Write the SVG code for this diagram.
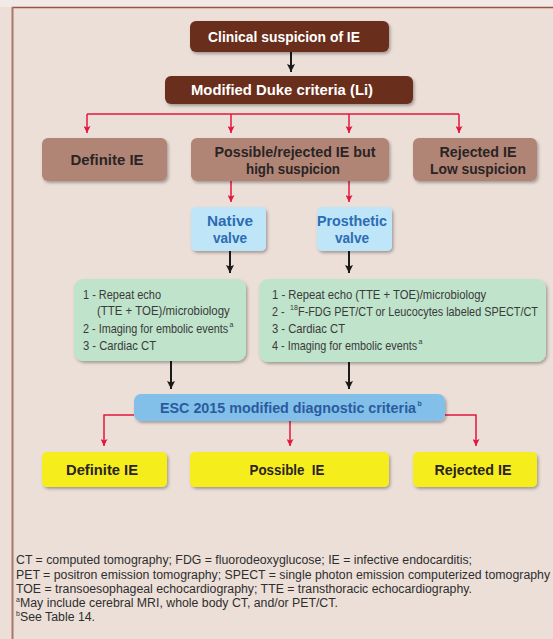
<svg xmlns="http://www.w3.org/2000/svg" width="553" height="639" viewBox="0 0 553 639">
<defs>
<style>
.hb{font-family:"Liberation Sans",Arial,sans-serif;font-weight:bold;font-size:15px;}
.w{fill:#ffffff;}
.d{fill:#2a2424;}
.bl{fill:#2b6cb4;}
.esc{fill:#2a5b9f;}
.g{font-family:"Liberation Sans",Arial,sans-serif;font-size:13px;fill:#3a3a3a;}
.sup{font-family:"Liberation Sans",Arial,sans-serif;font-size:7px;}
.fn{font-family:"Liberation Sans",Arial,sans-serif;font-size:12.3px;fill:#2e2e2e;}
.red{stroke:#e3173e;stroke-width:1.5;fill:none;}
.blk{stroke:#1a1a1a;stroke-width:2;fill:none;}
.brown{fill:#6b2d1e;}
.rose{fill:#b08576;}
.lb{fill:#bee5f8;}
.grn{fill:#bfe3cb;}
.mb{fill:#83c0e9;}
.yl{fill:#f6ee1f;}
</style>
<filter id="sh" x="-10%" y="-20%" width="125%" height="160%">
<feDropShadow dx="1.5" dy="2" stdDeviation="1.5" flood-color="#000" flood-opacity="0.3"/>
</filter>
<marker id="ar" viewBox="0 0 10 10" refX="10" refY="5" markerWidth="8" markerHeight="7" orient="auto" markerUnits="userSpaceOnUse">
<path d="M0,0 L10,5 L0,10 L2,5 z" fill="#e3173e"/>
</marker>
<marker id="ab" viewBox="0 0 10 10" refX="10" refY="5" markerWidth="9" markerHeight="8" orient="auto" markerUnits="userSpaceOnUse">
<path d="M0,0 L10,5 L0,10 L2,5 z" fill="#1a1a1a"/>
</marker>
</defs>

<rect x="0" y="0" width="553" height="639" fill="#ecdfd8"/>
<rect x="0" y="0" width="553" height="7" fill="#f2eae6"/>
<line x1="12" y1="7.5" x2="553" y2="7.5" stroke="#9b5545" stroke-width="1.5"/>
<line x1="12.5" y1="7" x2="12.5" y2="639" stroke="#a67868" stroke-width="2"/>

<g id="connectors">
<line class="blk" x1="291" y1="52" x2="291" y2="72" marker-end="url(#ab)"/>
<line class="red" x1="87" y1="114" x2="459" y2="114"/>
<line class="red" x1="87" y1="114" x2="87" y2="133" marker-end="url(#ar)"/>
<line class="red" x1="231" y1="114" x2="231" y2="133" marker-end="url(#ar)"/>
<line class="red" x1="349" y1="114" x2="349" y2="133" marker-end="url(#ar)"/>
<line class="red" x1="459" y1="114" x2="459" y2="133" marker-end="url(#ar)"/>
<line class="red" x1="231" y1="181" x2="231" y2="202" marker-end="url(#ar)"/>
<line class="red" x1="349" y1="181" x2="349" y2="202" marker-end="url(#ar)"/>
<line class="blk" x1="230" y1="251" x2="230" y2="273" marker-end="url(#ab)"/>
<line class="blk" x1="349" y1="251" x2="349" y2="273" marker-end="url(#ab)"/>
<line class="blk" x1="171" y1="361" x2="171" y2="389" marker-end="url(#ab)"/>
<line class="blk" x1="349" y1="362" x2="349" y2="389" marker-end="url(#ab)"/>
<polyline class="red" points="134,415 104,415 104,446" marker-end="url(#ar)"/>
<line class="red" x1="290" y1="421" x2="290" y2="446" marker-end="url(#ar)"/>
<polyline class="red" points="445,415 476,415 476,446" marker-end="url(#ar)"/>
</g>

<g id="clinical">
<rect class="brown" x="190" y="21" width="199" height="31" rx="6" filter="url(#sh)"/>
<text class="hb w" x="284" y="42" text-anchor="middle" textLength="152" lengthAdjust="spacingAndGlyphs">Clinical suspicion of IE</text>
</g>

<g id="duke">
<rect class="brown" x="165" y="76" width="248" height="28" rx="6" filter="url(#sh)"/>
<text class="hb w" x="282" y="95" text-anchor="middle" textLength="182" lengthAdjust="spacingAndGlyphs">Modified Duke criteria (Li)</text>
</g>

<g id="definite1">
<rect class="rose" x="42" y="138" width="125" height="43" rx="6" filter="url(#sh)"/>
<text class="hb d" x="107" y="165" text-anchor="middle" textLength="73" lengthAdjust="spacingAndGlyphs">Definite IE</text>
</g>

<g id="possible1">
<rect class="rose" x="191" y="138" width="198" height="43" rx="6" filter="url(#sh)"/>
<text class="hb d" x="295" y="157" text-anchor="middle" textLength="161" lengthAdjust="spacingAndGlyphs">Possible/rejected IE but</text>
<text class="hb d" x="293" y="174" text-anchor="middle" textLength="94" lengthAdjust="spacingAndGlyphs">high suspicion</text>
</g>

<g id="rejected1">
<rect class="rose" x="413" y="138" width="124" height="43" rx="6" filter="url(#sh)"/>
<text class="hb d" x="478" y="157" text-anchor="middle" textLength="77" lengthAdjust="spacingAndGlyphs">Rejected IE</text>
<text class="hb d" x="478" y="174" text-anchor="middle" textLength="96" lengthAdjust="spacingAndGlyphs">Low suspicion</text>
</g>

<g id="native">
<rect class="lb" x="191" y="207" width="75" height="44" rx="5" filter="url(#sh)"/>
<text class="hb bl" x="230" y="226" text-anchor="middle" textLength="46" lengthAdjust="spacingAndGlyphs">Native</text>
<text class="hb bl" x="230" y="243" text-anchor="middle" textLength="34" lengthAdjust="spacingAndGlyphs">valve</text>
</g>

<g id="prosthetic">
<rect class="lb" x="317" y="207" width="75" height="44" rx="5" filter="url(#sh)"/>
<text class="hb bl" x="352" y="226" text-anchor="middle" textLength="70" lengthAdjust="spacingAndGlyphs">Prosthetic</text>
<text class="hb bl" x="352" y="243" text-anchor="middle" textLength="34" lengthAdjust="spacingAndGlyphs">valve</text>
</g>

<g id="native-steps">
<rect class="grn" x="74" y="279" width="172" height="82" rx="9" filter="url(#sh)"/>
<text class="g" transform="translate(83,299) scale(0.83,1)" x="0" y="0" textLength="94" lengthAdjust="spacingAndGlyphs">1 - Repeat echo</text>
<text class="g" transform="translate(97,315) scale(0.83,1)" x="0" y="0" textLength="160" lengthAdjust="spacingAndGlyphs">(TTE + TOE)/microbiology</text>
<text class="g" transform="translate(83,333) scale(0.83,1)" x="0" y="0" textLength="175" lengthAdjust="spacingAndGlyphs">2 - Imaging for embolic events</text>
<text class="sup" x="229.5" y="327" fill="#3a3a3a">a</text>
<text class="g" transform="translate(83,350) scale(0.83,1)" x="0" y="0" textLength="88" lengthAdjust="spacingAndGlyphs">3 - Cardiac CT</text>
</g>

<g id="prosthetic-steps">
<rect class="grn" x="259" y="279" width="287" height="83" rx="9" filter="url(#sh)"/>
<text class="g" transform="translate(272,299) scale(0.83,1)" x="0" y="0" textLength="258" lengthAdjust="spacingAndGlyphs">1 - Repeat echo (TTE + TOE)/microbiology</text>
<text class="g" transform="translate(272,316) scale(0.83,1)" x="0" y="0">2 -</text>
<text class="sup" x="290" y="310" fill="#3a3a3a">18</text>
<text class="g" transform="translate(298,316) scale(0.83,1)" x="0" y="0" textLength="289" lengthAdjust="spacingAndGlyphs">F-FDG PET/CT or Leucocytes labeled SPECT/CT</text>
<text class="g" transform="translate(272,333) scale(0.83,1)" x="0" y="0" textLength="88" lengthAdjust="spacingAndGlyphs">3 - Cardiac CT</text>
<text class="g" transform="translate(272,350) scale(0.83,1)" x="0" y="0" textLength="175" lengthAdjust="spacingAndGlyphs">4 - Imaging for embolic events</text>
<text class="sup" x="418.5" y="344" fill="#3a3a3a">a</text>
</g>

<g id="esc">
<rect class="mb" x="134" y="394" width="311" height="27" rx="7" filter="url(#sh)"/>
<text class="hb esc" transform="translate(160,413) scale(0.88,1)" x="0" y="0" font-size="16" textLength="291" lengthAdjust="spacingAndGlyphs">ESC 2015 modified diagnostic criteria</text>
<text class="sup esc" x="417.5" y="406" font-size="8" font-weight="bold">b</text>
</g>

<g id="definite2">
<rect class="yl" x="42" y="452" width="125" height="35" rx="5" filter="url(#sh)"/>
<text class="hb d" x="102" y="475" text-anchor="middle" textLength="72" lengthAdjust="spacingAndGlyphs">Definite IE</text>
</g>

<g id="possible2">
<rect class="yl" x="190" y="452" width="199" height="35" rx="5" filter="url(#sh)"/>
<text class="hb d" x="287" y="475" text-anchor="middle" xml:space="preserve" textLength="75" lengthAdjust="spacingAndGlyphs">Possible  IE</text>
</g>

<g id="rejected2">
<rect class="yl" x="413" y="452" width="124" height="35" rx="5" filter="url(#sh)"/>
<text class="hb d" x="473" y="475" text-anchor="middle" textLength="77" lengthAdjust="spacingAndGlyphs">Rejected IE</text>
</g>

<g id="footnotes">
<text class="fn" x="16" y="564">CT = computed tomography; FDG = fluorodeoxyglucose; IE = infective endocarditis;</text>
<text class="fn" x="16" y="579">PET = positron emission tomography; SPECT = single photon emission computerized tomography</text>
<text class="fn" x="16" y="593">TOE = transoesophageal echocardiography; TTE = transthoracic echocardiography.</text>
<text class="sup" x="16" y="602" fill="#2e2e2e">a</text>
<text class="fn" x="20" y="607">May include cerebral MRI, whole body CT, and/or PET/CT.</text>
<text class="sup" x="16" y="616" fill="#2e2e2e">b</text>
<text class="fn" x="20" y="621">See Table 14.</text>
</g>
</svg>
